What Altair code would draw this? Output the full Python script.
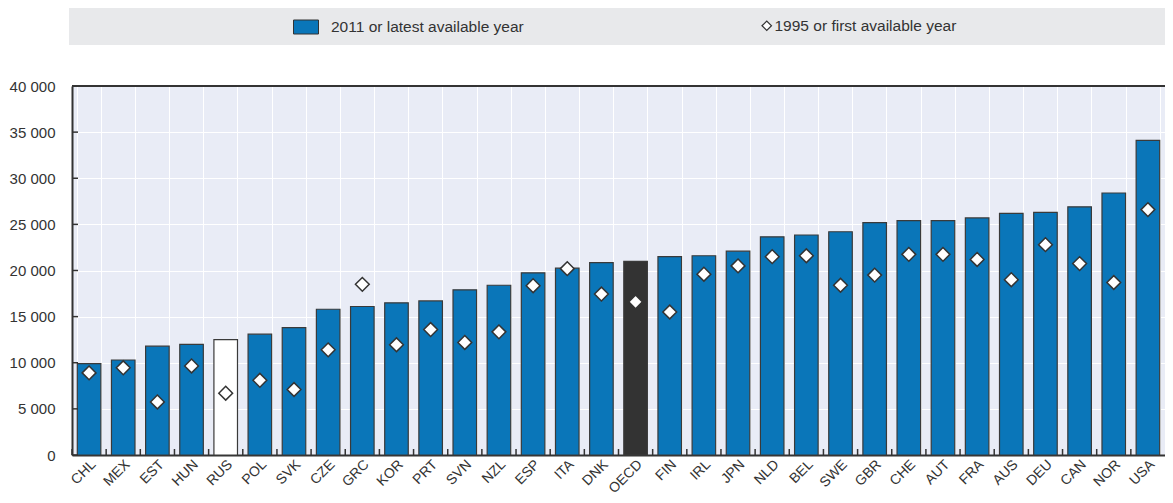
import altair as alt
import pandas as pd

countries = ["CHL", "MEX", "EST", "HUN", "RUS", "POL", "SVK", "CZE", "GRC", "KOR", "PRT",
             "SVN", "NZL", "ESP", "ITA", "DNK", "OECD", "FIN", "IRL", "JPN", "NLD", "BEL",
             "SWE", "GBR", "CHE", "AUT", "FRA", "AUS", "DEU", "CAN", "NOR", "USA"]
latest = [9900, 10300, 11800, 12000, 12500, 13100, 13800, 15800, 16100, 16500, 16700,
          17900, 18400, 19750, 20250, 20850, 21000, 21500, 21600, 22100, 23650, 23850,
          24200, 25200, 25400, 25400, 25700, 26200, 26300, 26900, 28400, 34100]
first = [8900, 9450, 5750, 9650, 6700, 8100, 7100, 11400, 18500, 11950, 13600,
         12200, 13350, 18350, 20200, 17450, 16600, 15500, 19600, 20500, 21500, 21600,
         18400, 19500, 21750, 21750, 21200, 19000, 22800, 20750, 18700, 26600]
y_ticks = [0, 5000, 10000, 15000, 20000, 25000, 30000, 35000, 40000]
series_latest = "2011 or latest available year"
series_first = "1995 or first available year"

df = pd.DataFrame({"country": countries, "latest": latest, "first": first})
df["s1"] = series_latest
df["s2"] = series_first
ydf = pd.DataFrame({"v": y_ticks})

# layout (svg is exactly 1157 x 487)
PAD_L, PAD_T = 64, 78
W, H = 1157 - PAD_L, 369
PAD_B = 487 - PAD_T - H
PI, PO = 0.31, 0.155
n = len(countries)
step = W / (n - PI + 2 * PO)
FONT = "Liberation Sans"
TXT = "#333333"
BLUE = "#0a76b9"
DARK = "#333333"
BAND_TOP, BAND_BOT = -78, -41
BAND_MID = (BAND_TOP + BAND_BOT) / 2

xscale = alt.Scale(paddingInner=PI, paddingOuter=PO)

x_axis = alt.Axis(title=None, labelAngle=-45, labelFontSize=14, labelFont=FONT,
                  labelColor=TXT, domainColor=DARK, domainWidth=2, ticks=False,
                  tickSize=0, grid=True, gridColor="white", gridWidth=1,
                  tickBand="extent", labelPadding=7, labelAlign="right",
                  labelBaseline="middle", labelOffset=4)
y_axis = alt.Axis(title=None, values=y_ticks,
                  labelExpr="replace(format(datum.value, ','), ',', ' ')",
                  labelFontSize=15, labelFont=FONT, labelColor=TXT, labelPadding=17,
                  ticks=False, tickSize=0, domainColor=DARK, domainWidth=2,
                  grid=True, gridColor="white", gridWidth=1)

bg = alt.Chart(alt.Data(values=[{"k": 1}])).mark_rect(fill="#e8e9eb").encode(
    x=alt.value(-3), x2=alt.value(W + 40), y=alt.value(BAND_TOP), y2=alt.value(BAND_BOT)
)

topline = alt.Chart(alt.Data(values=[{"k": 1}])).mark_rule(stroke=DARK, strokeWidth=2).encode(
    x=alt.value(0), x2=alt.value(W), y=alt.value(0)
)

bars = alt.Chart(df).mark_bar(stroke="#3a3a3a", strokeWidth=1.2).encode(
    x=alt.X("country:N", sort=countries, scale=xscale, axis=x_axis, title=None),
    y=alt.Y("latest:Q", scale=alt.Scale(domain=[0, 40000], nice=False), axis=y_axis, title=None),
    fill=alt.Fill(
        "s1:N",
        scale=alt.Scale(domain=[series_latest], range=[BLUE]),
        legend=alt.Legend(title=None, orient="none", legendX=221, legendY=BAND_MID - 12.5,
                          symbolType="M-1,-0.56L1,-0.56L1,0.56L-1,0.56Z", symbolSize=625,
                          symbolStrokeColor=DARK, symbolStrokeWidth=1,
                          labelFontSize=15.5, labelFont=FONT, labelColor=TXT,
                          labelOffset=12, labelLimit=400, padding=0),
        condition=[
            {"test": "datum.country === 'RUS'", "value": "white"},
            {"test": "datum.country === 'OECD'", "value": DARK},
        ],
    ),
)

xticks = alt.Chart(df).mark_rule(stroke=DARK, strokeWidth=1.5, xOffset=-PI * step / 2).encode(
    x=alt.X("country:N", sort=countries, bandPosition=0, title=None),
    y=alt.value(H), y2=alt.value(H - 6),
)

yticks = alt.Chart(ydf).mark_rule(stroke=DARK, strokeWidth=1.5).encode(
    y=alt.Y("v:Q", title=None), x=alt.value(0), x2=alt.value(6)
)

diamond_legend = alt.Legend(title=None, orient="none", legendX=687, legendY=BAND_MID - 8.5,
                            symbolSize=90, symbolFillColor="white", symbolStrokeColor=DARK,
                            symbolStrokeWidth=1.2, labelFontSize=15.5, labelFont=FONT,
                            labelColor=TXT, labelOffset=0, labelLimit=400, padding=0)

pts = alt.Chart(df).mark_point(filled=False, fill="white", strokeWidth=1.5, size=190,
                               opacity=1, fillOpacity=1).encode(
    x=alt.X("country:N", sort=countries, title=None),
    y=alt.Y("first:Q", title=None),
    shape=alt.Shape("s2:N", scale=alt.Scale(domain=[series_first], range=["diamond"]),
                    legend=diamond_legend),
    stroke=alt.Stroke("s2:N", scale=alt.Scale(domain=[series_first], range=[DARK]),
                      legend=diamond_legend),
)

chart = alt.layer(bg, bars, xticks, yticks, pts, topline).properties(
    width=W, height=H,
    autosize=alt.AutoSizeParams(type="none"),
    padding={"left": PAD_L, "top": PAD_T, "right": 0, "bottom": PAD_B},
).configure_view(fill="#e9ecf6", stroke=None)

chart.save("out.html", embed_options={"renderer": "svg", "actions": False})
